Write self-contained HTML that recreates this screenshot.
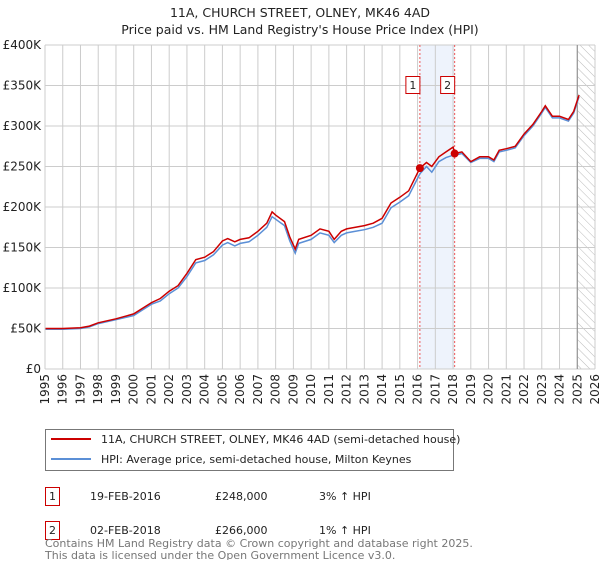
<!DOCTYPE html>
<html><head><meta charset="utf-8"><style>
body{margin:0;background:#fff;font-family:"DejaVu Sans","Liberation Sans",sans-serif;}
</style></head><body>
<svg width="600" height="560" viewBox="0 0 600 560" xmlns="http://www.w3.org/2000/svg" font-family="DejaVu Sans, Liberation Sans, sans-serif">
<text x="300" y="17" text-anchor="middle" font-size="12.5" fill="#222">11A, CHURCH STREET, OLNEY, MK46 4AD</text>
<text x="300" y="34" text-anchor="middle" font-size="12.5" fill="#222">Price paid vs. HM Land Registry's House Price Index (HPI)</text>
<defs><pattern id="hatch" width="6" height="6" patternUnits="userSpaceOnUse" patternTransform="rotate(-45)"><line x1="0" y1="0" x2="0" y2="6" stroke="#bbb" stroke-width="1"/></pattern></defs>
<g id="plot"></g>
<g id="legend">
<rect x="45.5" y="429.5" width="408" height="41" fill="#fff" stroke="#777"/>
<line x1="51" y1="439" x2="91" y2="439" stroke="#cc0000" stroke-width="2"/>
<text x="101" y="443" font-size="11" fill="#222">11A, CHURCH STREET, OLNEY, MK46 4AD (semi-detached house)</text>
<line x1="51" y1="459" x2="91" y2="459" stroke="#5b8fd6" stroke-width="2"/>
<text x="101" y="463" font-size="11" fill="#222">HPI: Average price, semi-detached house, Milton Keynes</text>
</g>
<g font-size="11" fill="#222">
<rect x="45.5" y="487.5" width="14" height="18" fill="#fff" stroke="#cc0000"/>
<text x="52.5" y="500" text-anchor="middle">1</text>
<text x="90" y="500">19-FEB-2016</text>
<text x="215" y="500">£248,000</text>
<text x="319" y="500">3% ↑ HPI</text>
<rect x="45.5" y="521.5" width="14" height="18" fill="#fff" stroke="#cc0000"/>
<text x="52.5" y="534" text-anchor="middle">2</text>
<text x="90" y="534">02-FEB-2018</text>
<text x="215" y="534">£266,000</text>
<text x="319" y="534">1% ↑ HPI</text>
</g>
<text x="45" y="547" font-size="11" fill="#777">Contains HM Land Registry data © Crown copyright and database right 2025.</text>
<text x="45" y="559" font-size="11" fill="#777">This data is licensed under the Open Government Licence v3.0.</text>
</svg>
<script>
const yTicks=[0,50,100,150,200,250,300,350,400];
const yTickLabels=["£0","£50K","£100K","£150K","£200K","£250K","£300K","£350K","£400K"];
const xYears=[1995,1996,1997,1998,1999,2000,2001,2002,2003,2004,2005,2006,2007,2008,2009,2010,2011,2012,2013,2014,2015,2016,2017,2018,2019,2020,2021,2022,2023,2024,2025,2026];
const priceT=[1995.0,1996,1997,1997.5,1998,1999,2000,2000.5,2001,2001.5,2002,2002.5,2003,2003.5,2004,2004.5,2005,2005.3,2005.7,2006,2006.5,2007,2007.5,2007.8,2008,2008.5,2008.8,2009.1,2009.3,2010,2010.5,2011,2011.3,2011.7,2012,2012.5,2013,2013.5,2014,2014.5,2015,2015.5,2016.13,2016.5,2016.8,2017.2,2017.6,2018.0,2018.09,2018.5,2019,2019.5,2020,2020.3,2020.6,2021,2021.5,2022,2022.5,2023,2023.2,2023.6,2024,2024.5,2024.8,2025.1];
const priceV=[50,50,51,53,57,62,68,75,82,87,96,103,118,135,138,145,158,161,157,160,162,170,180,194,190,182,163,148,160,165,173,170,160,170,173,175,177,180,186,205,212,220,248,255,250,262,268,274,266,268,256,262,262,258,270,272,275,290,302,318,325,312,312,308,318,338];
const hpiV=[49,49,50,52,56,61,66,73,80,84,93,100,114,131,134,141,153,156,152,155,157,165,175,188,185,177,158,143,155,160,168,165,156,165,168,170,172,175,180,199,206,214,241,250,243,256,261,264,264,266,255,260,260,256,268,270,273,288,300,316,323,310,310,306,316,336];
const sales=[[2016.13,248],[2018.09,266]];
const X0=45,X1=595,Y0=369,Y1=45;
const xs=t=>X0+(t-1995)/(2026-1995)*(X1-X0);
const ys=v=>Y0-v/400*(Y0-Y1);
const NS="http://www.w3.org/2000/svg";
const g=document.getElementById('plot');
function mk(tag,attrs){const e=document.createElementNS(NS,tag);for(const k in attrs)e.setAttribute(k,attrs[k]);g.appendChild(e);return e;}
let e;
e=mk('rect',{x:xs(2016.13),y:Y1,width:xs(2018.09)-xs(2016.13),height:Y0-Y1,fill:'#eef3fc'});


e=mk('rect',{x:xs(2025.0),y:Y1,width:X1-xs(2025.0),height:Y0-Y1,fill:'url(#hatch)'});


yTicks.forEach((v,i)=>{
 e=mk('line',{x1:X0,x2:X1,y1:ys(v),y2:ys(v),stroke:'#ccc','stroke-width':1});
 
 
 e=mk('text',{x:X0-4,y:ys(v)+4,'text-anchor':'end','font-size':12,fill:'#222'});
 e.textContent=yTickLabels[i];
 
 
});
xYears.forEach(y=>{
 e=mk('line',{x1:xs(y),x2:xs(y),y1:Y1,y2:Y0,stroke:'#ccc','stroke-width':1});
 
 
 e=mk('text',{x:0,y:0,'text-anchor':'end','font-size':12,fill:'#222',transform:`translate(${xs(y)+4},374) rotate(-90)`});
 e.textContent=y;
 
 
});
e=mk('line',{x1:xs(2025.0),x2:xs(2025.0),y1:Y1,y2:Y0,stroke:'#888','stroke-width':1});


sales.forEach((s,i)=>{
 e=mk('line',{x1:xs(s[0]),x2:xs(s[0]),y1:Y1,y2:Y0,stroke:'#e55','stroke-width':1,'stroke-dasharray':'2,2'});
 
 
});
const pts=(vals)=>priceT.map((t,i)=>xs(t).toFixed(1)+','+ys(vals[i]).toFixed(1)).join(' ');
e=mk('polyline',{points:pts(hpiV),fill:'none',stroke:'#5b8fd6','stroke-width':1.5});


e=mk('polyline',{points:pts(priceV),fill:'none',stroke:'#cc0000','stroke-width':1.5});


sales.forEach((s,i)=>{
 e=mk('circle',{cx:xs(s[0]),cy:ys(s[1]),r:4,fill:'#cc0000'});
 
 
 const bx=xs(s[0])-14;
 e=mk('rect',{x:bx,y:76.5,width:14,height:17,fill:'#fff',stroke:'#cc0000'});
 
 
 e=mk('text',{x:bx+7,y:89,'text-anchor':'middle','font-size':11,fill:'#222'});
 e.textContent=String(i+1);
 
 
});
e=mk('line',{x1:X0,x2:X0,y1:Y1,y2:Y0,stroke:'#ccc','stroke-width':1});


</script>
</body></html>
